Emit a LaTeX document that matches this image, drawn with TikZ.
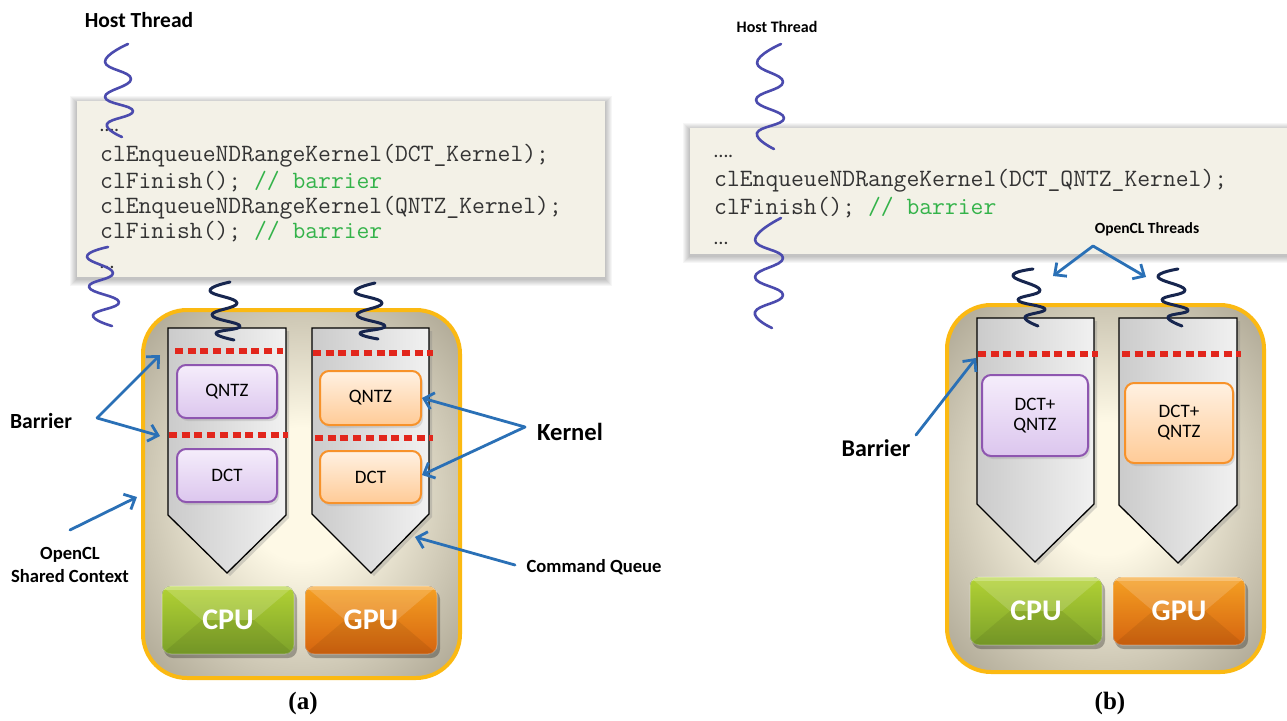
\documentclass[tikz,border=0pt]{standalone}
\usepackage{fontspec}
\usetikzlibrary{arrows.meta,shadows}
\newfontfamily\labfont{Carlito}
\newcommand\codefont{\ttfamily}
\newfontfamily\capfont{Liberation Serif}
\newcommand\setfs[1]{\fontsize{#1}{#1}\selectfont}

\definecolor{codefill}{HTML}{F3F1E7}
\definecolor{codetext}{HTML}{333333}
\definecolor{cmtgreen}{HTML}{34B34A}
\definecolor{hostc}{HTML}{4B4BAE}
\definecolor{navyc}{HTML}{17264F}
\definecolor{goldc}{HTML}{FBB912}
\definecolor{glowin}{HTML}{FEF9E6}
\definecolor{glowout}{HTML}{9C9582}
\definecolor{qdark}{HTML}{CBCBCB}
\definecolor{qlight}{HTML}{F1F1F1}
\definecolor{barred}{HTML}{E2261C}
\definecolor{kpb}{HTML}{8E56B0}
\definecolor{kpt}{HTML}{F5EDFB}
\definecolor{kpbot}{HTML}{DCC6EE}
\definecolor{kob}{HTML}{F7922A}
\definecolor{kot}{HTML}{FFF1E2}
\definecolor{kobot}{HTML}{FFCB97}
\definecolor{cputop}{HTML}{B2D234}
\definecolor{cpubot}{HTML}{7CA12A}
\definecolor{gputop}{HTML}{F5A023}
\definecolor{gpubot}{HTML}{D5640F}
\definecolor{arrowc}{HTML}{2A70B6}

\pgfdeclareradialshading{ctxglow}{\pgfpoint{0bp}{0bp}}{color(0bp)=(glowin); color(9bp)=(glowin); color(40bp)=(glowout); color(75bp)=(glowout)}

% processor chip: corners, top/bottom colours, label, node name
\newcommand\drawchip[8]{%
  \fill[black,opacity=.28,rounded corners=9pt] ({#1+2},{#2+4}) rectangle ({#3+3},{#4+4});
  \begin{scope}
    \clip[rounded corners=9pt] (#1,#2) rectangle (#3,#4);
    \fill[top color=#5, bottom color=#6] (#1,#2) rectangle (#3,#4);
    \fill[white,opacity=.16] (#1,#2) -- (#3,#2) -- ({#3-40},{(#2+#4)/2}) -- ({#1+40},{(#2+#4)/2}) -- cycle;
    \fill[black,opacity=.07] (#1,#4) -- (#3,#4) -- ({#3-40},{(#2+#4)/2}) -- ({#1+40},{(#2+#4)/2}) -- cycle;
    \fill[white,opacity=.25] (#1,#2) rectangle (#3,{#2+4});
  \end{scope}
  \draw[white,opacity=.3,line width=1pt,rounded corners=9pt] (#1,#2) rectangle (#3,#4);
  \node[chiptext] (#8) at ({(#1+#3)/2},{(#2+#4)/2}) {#7};
}

\begin{document}
\begin{tikzpicture}[x=1pt,y=-1pt,
  codeline/.style={anchor=base west, inner sep=0pt, text=codetext, font=\codefont\setfs{24.9}},
  dotline/.style={anchor=base west, inner sep=0pt, text=codetext, font=\labfont\setfs{20}},
  hostwave/.style={draw=hostc, line width=2.6pt, line cap=round, line join=round},
  thrwave/.style={draw=navyc, line width=3pt, line cap=round, line join=round},
  ctxbox/.style={draw=goldc, line width=4pt, rounded corners=44pt, shading=ctxglow},
  queue/.style={draw=black, line width=1.3pt, left color=qdark, right color=qlight,
    drop shadow={opacity=.3, shadow xshift=3pt, shadow yshift=-3pt}},
  barline/.style={draw=barred, line width=6pt, dash pattern=on 8pt off 4.7pt},
  kbox/.style={line width=2pt, rounded corners=9pt, inner sep=0pt, align=center,
    font=\labfont\setfs{19}, drop shadow={opacity=.22, shadow xshift=2pt, shadow yshift=-3pt}},
  kpurple/.style={kbox, draw=kpb, top color=kpt, bottom color=kpbot},
  korange/.style={kbox, draw=kob, top color=kot, bottom color=kobot},
  chiptext/.style={text=white, font=\labfont\bfseries\setfs{30}},
  callout/.style={draw=arrowc, line width=2.8pt, line cap=round,
    -{Straight Barb[length=9pt,width=17pt]}},
  lab/.style={inner sep=0pt, text=black, align=center},
]
\useasboundingbox (0,0) rectangle (1287,720);
\fill[white] (0,0) rectangle (1287,720);

%% ---------------- panel (a) ----------------
% host code listing
\foreach \s in {1,...,7}
  \fill[black,opacity=.035] ({77-\s},{101-\s+2}) rectangle ({605+\s},{277+\s+2});
\fill[codefill] (77,101) rectangle (605,277);
\node[dotline] (aL0) at (100,131) {….};
\node[codeline] (aL1) at (100,161) {clEnqueueNDRangeKernel(DCT\_Kernel);};
\node[codeline] (aL2) at (100,188) {clFinish(); {\color{cmtgreen}// barrier}};
\node[codeline] (aL3) at (100,213) {clEnqueueNDRangeKernel(QNTZ\_Kernel);};
\node[codeline] (aL4) at (100,238) {clFinish(); {\color{cmtgreen}// barrier}};
\node[dotline] (aL5) at (100,268) {…};

% host thread
\draw[hostwave] plot[smooth,tension=.8] coordinates
  {(128,44) (105,62) (131,79) (105,97) (133,111) (107,124) (122,137)};
\draw[hostwave] plot[smooth,tension=.8] coordinates
  {(108,247) (87,257) (113,273) (89,287) (119,302) (93,315) (112,326)};

% shared context
\path[ctxbox] (143,310) rectangle (460,678);

% command queues
\path[queue] (168,328) -- (286,328) -- (286,515) -- (227,573) -- (168,515) -- cycle;
\path[queue] (312,328) -- (429,328) -- (429,514) -- (371,573) -- (312,514) -- cycle;

% barriers
\draw[barline] (175,351) -- (283,351);
\draw[barline] (169,435) -- (288,435);
\draw[barline] (313,353) -- (433,353);
\draw[barline] (315,438) -- (433,438);

% kernels
\node[kpurple, minimum width=100pt, minimum height=53pt] (aKq) at (227,391.5) {QNTZ};
\node[kpurple, minimum width=100pt, minimum height=53pt] (aKd) at (227,475.5) {DCT};
\node[korange, minimum width=101pt, minimum height=54pt] (bKq) at (370.5,398) {QNTZ};
\node[korange, minimum width=101pt, minimum height=52pt] (bKd) at (370.5,477) {DCT};

% devices
\drawchip{162}{586}{294}{654}{cputop}{cpubot}{CPU}{aCPU}
\drawchip{305}{586}{437}{654}{gputop}{gpubot}{GPU}{aGPU}

% OpenCL threads entering the queues
\draw[thrwave] plot[smooth,tension=.8] coordinates
  {(230,282) (210,291) (237,303) (212,315) (240,326) (216,333) (234,340)};
\draw[thrwave] plot[smooth,tension=.8] coordinates
  {(375,283) (355,292) (382,303) (357,315) (385,326) (360,333) (378,339)};

% labels and callouts
\node[lab, font=\labfont\bfseries\setfs{21.5}] (aHost) at (139,20) {Host Thread};
\node[lab, font=\labfont\bfseries\setfs{21.6}] (aBar) at (41,421) {Barrier};
\node[lab, font=\labfont\bfseries\setfs{18.6}] (aCtx) at (70,565) {OpenCL\\[4pt]Shared Context};
\node[lab, font=\labfont\bfseries\setfs{24.6}] (aKer) at (570,432) {Kernel};
\node[lab, font=\labfont\bfseries\setfs{18.6}] (aCq) at (594,567) {Command Queue};

\coordinate (aBarS) at (97,418);
\coordinate (aBarT1) at (160,355);
\coordinate (aBarT2) at (160,436);
\coordinate (aCtxS) at (70,530);
\coordinate (aCtxT) at (137,497);
\coordinate (aKerS) at (525,427);
\coordinate (aKerT1) at (422,398);
\coordinate (aKerT2) at (422,475);
\coordinate (aCqS) at (515,565);
\coordinate (aCqT) at (415,537);
\draw[callout] (aBarS) -- (aBarT1);
\draw[callout] (aBarS) -- (aBarT2);
\draw[callout] (aCtxS) -- (aCtxT);
\draw[callout] (aKerS) -- (aKerT1);
\draw[callout] (aKerS) -- (aKerT2);
\draw[callout] (aCqS) -- (aCqT);

\node[lab, font=\capfont\bfseries\setfs{25}] (capA) at (303,703) {(a)};

%% ---------------- panel (b) ----------------
\foreach \s in {1,...,7}
  \fill[black,opacity=.035] ({690-\s},{128-\s+2}) rectangle (1300,{254+\s+2});
\fill[codefill] (690,128) rectangle (1300,254);
\node[dotline] (bL0) at (714,157) {….};
\node[codeline] (bL1) at (714,186) {clEnqueueNDRangeKernel(DCT\_QNTZ\_Kernel);};
\node[codeline] (bL2) at (714,214) {clFinish(); {\color{cmtgreen}// barrier}};
\node[dotline] (bL3) at (714,244) {…};

\draw[hostwave] plot[smooth,tension=.8] coordinates
  {(781,44) (757,63) (783,82) (756,100) (784,118) (757,133) (774,149)};
\draw[hostwave] plot[smooth,tension=.8] coordinates
  {(781,218) (755,240) (783,258) (755,277) (783,295) (755,312) (772,328)};

\path[ctxbox] (947,305) rectangle (1264,672);

\path[queue] (977,318) -- (1094,318) -- (1094,504) -- (1035,562) -- (977,504) -- cycle;
\path[queue] (1119,318) -- (1237,318) -- (1237,505) -- (1178,563) -- (1119,505) -- cycle;

\draw[barline] (978,354) -- (1098,354);
\draw[barline] (1122,354) -- (1241,354);

\node[kpurple, minimum width=106pt, minimum height=81pt] (cK) at (1035,415.5) {DCT+\\[1pt]QNTZ};
\node[korange, minimum width=108pt, minimum height=80pt] (dK) at (1179,423) {DCT+\\[1pt]QNTZ};

\drawchip{970}{577}{1102}{645}{cputop}{cpubot}{CPU}{bCPU}
\drawchip{1113}{577}{1245}{645}{gputop}{gpubot}{GPU}{bGPU}

\draw[thrwave] plot[smooth,tension=.8] coordinates
  {(1033,269) (1013,276) (1040,290) (1018,300) (1045,309) (1025,317) (1038,326)};
\draw[thrwave] plot[smooth,tension=.8] coordinates
  {(1178,269) (1158,277) (1185,290) (1162,300) (1188,310) (1168,317) (1182,326)};

\node[lab, font=\labfont\bfseries\setfs{16}] (bHost) at (777,27) {Host Thread};
\node[lab, font=\labfont\bfseries\setfs{15.5}] (bThr) at (1147,229) {OpenCL Threads};
\node[lab, font=\labfont\bfseries\setfs{24}] (bBar) at (876,448) {Barrier};

\coordinate (bThrS) at (1093,246);
\coordinate (bThrT1) at (1053,276);
\coordinate (bThrT2) at (1146,277);
\coordinate (bBarS) at (916,435);
\coordinate (bBarT) at (976,358);
\draw[callout] (bThrS) -- (bThrT1);
\draw[callout] (bThrS) -- (bThrT2);
\draw[callout] (bBarS) -- (bBarT);

\node[lab, font=\capfont\bfseries\setfs{25}] (capB) at (1110,703) {(b)};
\end{tikzpicture}
\end{document}
